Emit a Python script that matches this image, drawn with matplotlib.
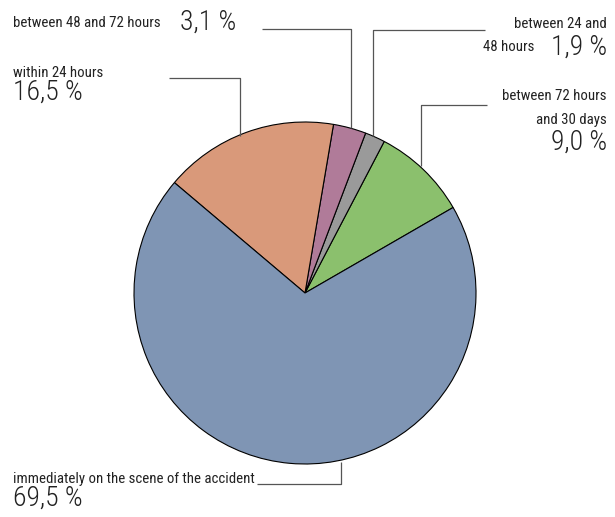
import matplotlib.pyplot as plt
from matplotlib import font_manager as fm

# data, counter-clockwise starting at 30 degrees
labels = ["between 72 hours\nand 30 days", "between 24 and\n48 hours", "between 48 and 72 hours",
          "within 24 hours", "immediately on the scene of the accident"]
shares = [9.0, 1.9, 3.1, 16.5, 69.5]
colors = ["#8BC06D", "#9A9A9A", "#B07B99", "#D9997A", "#7F95B4"]

H = 517
installed = {f.name for f in fm.fontManager.ttflist}
wanted = ['Roboto Condensed', 'DejaVu Sans']
plt.rcParams['font.family'] = [f for f in wanted if f in installed] + ['DejaVu Sans']

fig = plt.figure(figsize=(6.15, 5.17), dpi=100)
ax = fig.add_axes([0, 0, 1, 1])

ax.pie(shares, colors=colors, startangle=30, counterclock=True,
       center=(305, H - 293), radius=171,
       wedgeprops=dict(edgecolor='black', linewidth=0.8))
ax.set_xlim(0, 615)
ax.set_ylim(0, H)
ax.set_aspect('equal')
ax.axis('off')

def pct(v):
    return f"{v:.1f} %".replace('.', ',')

small = 10.7
big = 20
tc = '#222222'
lc = '#555555'
lw = 0.9

def leader(pts):
    xs = [p[0] for p in pts]
    ys = [H - p[1] for p in pts]
    ax.plot(xs, ys, color=lc, lw=lw, solid_capstyle='butt')

def label(x, y, s, size, ha='left'):
    w = 'light' if size == big else 'normal'
    ax.text(x, H - y, s, fontsize=size, va='baseline', ha=ha, color=tc, fontweight=w)

# between 48 and 72 hours
label(13, 27, labels[2], small)
label(180, 30, pct(shares[2]), big)
leader([(262, 29), (351, 29), (351, 128)])

# within 24 hours
label(13, 77, labels[3], small)
label(13, 100, pct(shares[3]), big)
leader([(169, 78), (240, 78), (240, 136)])

# between 24 and 48 hours
label(607, 28, "between 24 and", small, 'right')
label(534, 51, "48 hours", small, 'right')
label(607, 55, pct(shares[1]), big, 'right')
leader([(485, 30), (373, 30), (373, 136)])

# between 72 hours and 30 days
label(607, 100, "between 72 hours", small, 'right')
label(607, 124, "and 30 days", small, 'right')
label(607, 150, pct(shares[0]), big, 'right')
leader([(487, 105), (421, 105), (421, 166)])

# immediately on the scene
label(13, 483, labels[4], small)
label(13, 506, pct(shares[4]), big)
leader([(257, 484), (341, 484), (341, 462)])

fig.savefig("out.png", dpi=100)
